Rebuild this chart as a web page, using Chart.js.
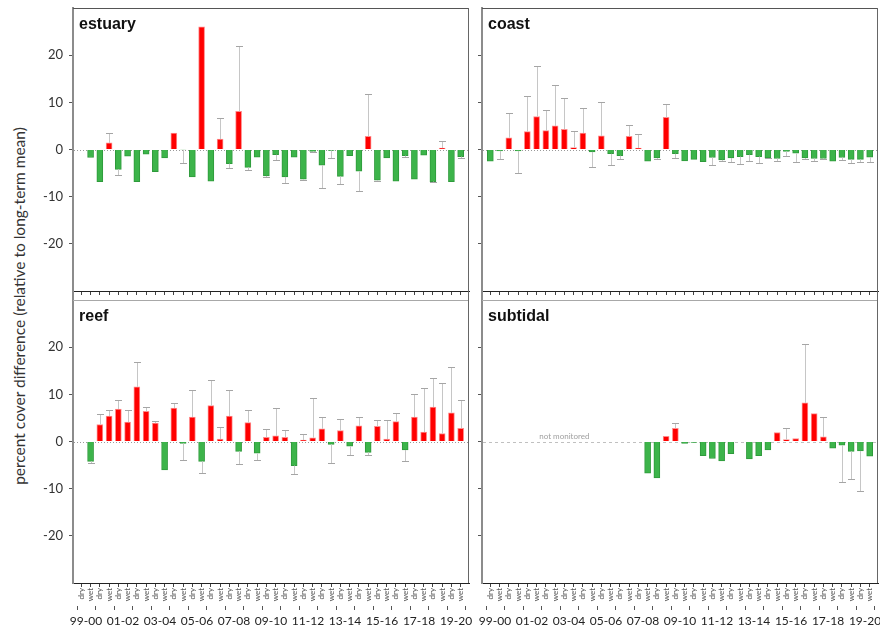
<!DOCTYPE html>
<html>
<head>
<meta charset="utf-8">
<script src="https://cdn.jsdelivr.net/npm/chart.js@4.4.1/dist/chart.umd.min.js"></script>
<style>
  body { margin: 0; background: #fff; }
  #page { position: relative; width: 880px; height: 633px; overflow: hidden; }
  .panel { position: absolute; }
  #ytitle {
    position: absolute; left: 19px; top: 306px;
    transform: translate(-50%, -50%) rotate(-90deg);
    white-space: nowrap; font: 15.5px Lato, sans-serif; color: #333;
  }
</style>
</head>
<body>
<div id="page">
  <div id="ytitle">percent cover difference (relative to long-term mean)</div>
  <div class="panel" style="left:0;top:0;width:476px;height:300px"><canvas id="estuaryChart"></canvas></div>
  <div class="panel" style="left:476px;top:0;width:404px;height:300px"><canvas id="coastChart"></canvas></div>
  <div class="panel" style="left:0;top:296px;width:476px;height:337px"><canvas id="reefChart"></canvas></div>
  <div class="panel" style="left:476px;top:296px;width:404px;height:337px"><canvas id="subtidalChart"></canvas></div>
</div>
<script>
// ==================== DATA ====================
const years = ['99-00', '00-01', '01-02', '02-03', '03-04', '04-05', '05-06', '06-07', '07-08', '08-09',
    '09-10', '10-11', '11-12', '12-13', '13-14', '14-15', '15-16', '16-17', '17-18', '18-19', '19-20'];
const seasons = ['dry', 'wet'];
const categories = years.flatMap(y => seasons.map(s => y + ' ' + s));
const yearTickLabels = ['99-00', '01-02', '03-04', '05-06', '07-08', '09-10', '11-12', '13-14', '15-16', '17-18', '19-20'];
const yTicks = [-20, -10, 0, 10, 20];

// bar values (difference from long-term mean), one per season
const estuary = [null, -1.7, -6.8, 1.4, -4.2, -1.4, -6.8, -1.0, -4.7, -1.8,
    3.5, -0.1, -5.8, 26.0, -6.7, 2.2, -3.0, 8.1, -3.8, -1.6,
    -5.6, -1.1, -5.8, -1.6, -6.3, -0.4, -3.3, -0.2, -5.7, -1.3,
    -4.6, 2.8, -6.5, -1.8, -6.7, -1.3, -6.3, -1.2, -6.8, 0.3,
    -6.8, -1.5];
// end point of each error bar
const estuaryErr = [null, null, null, 3.5, -5.5, null, null, null, null, null,
    null, -2.9, null, null, null, 6.7, -4.0, 21.9, -4.4, null,
    -5.8, -2.3, -7.2, null, -6.4, -0.6, -8.2, -1.8, -7.3, null,
    -8.7, 11.7, -6.6, null, null, -1.6, null, null, -6.9, 1.8,
    null, -1.8];

const coast = [-2.5, -0.3, 2.5, -0.3, 3.8, 7.0, 4.0, 5.0, 4.3, 0.4,
    3.5, -0.5, 2.9, -0.9, -1.3, 2.8, 0.3, -2.5, -1.8, 6.8,
    -0.9, -2.4, -2.1, -2.6, -1.7, -2.2, -1.8, -1.5, -1.1, -1.5,
    -1.8, -1.9, -0.4, -0.8, -1.8, -1.9, -1.9, -2.5, -1.7, -2.1,
    -2.1, -1.6];
const coastErr = [null, -2.1, 7.7, -5.0, 11.4, 17.6, 8.4, 13.7, 10.9, 4.0,
    8.9, -3.8, 10.1, -3.2, -2.1, 5.1, 3.3, null, -2.1, 9.6,
    -1.8, null, null, null, -3.3, -2.5, -2.6, -3.1, -2.5, -2.9,
    -1.9, -2.5, -1.3, -2.7, -2.0, -2.4, -2.1, null, -2.2, -2.8,
    -2.7, -2.7];

const reef = [null, -4.2, 3.6, 5.4, 6.9, 4.1, 11.6, 6.4, 3.9, -6.0,
    7.1, -0.4, 5.2, -4.2, 7.6, 0.5, 5.4, -2.1, 4.0, -2.5,
    0.9, 1.2, 0.9, -5.1, 0.3, 0.8, 2.7, -0.6, 2.3, -1.0,
    3.3, -2.3, 3.2, 0.5, 4.2, -1.8, 5.2, 2.0, 7.3, 1.7,
    6.1, 2.8];
const reefErr = [null, -4.6, 5.8, 6.6, 8.9, 6.6, 16.9, 7.4, 4.4, null,
    8.1, -4.0, 11.0, -6.6, 13.0, 3.1, 11.0, -4.7, 6.7, -4.0,
    2.7, 7.2, 2.5, -6.9, 1.6, 9.3, 5.2, -4.6, 4.7, -2.8,
    5.3, -2.9, 4.5, 4.5, 6.1, -4.2, 10.0, 11.4, 13.5, 12.5,
    15.8, 8.8];

const subtidal = [null, null, null, null, null, null, null, null, null, null,
    null, null, null, null, null, null, null, -6.7, -7.7, 1.1,
    2.8, -0.4, -0.2, -3.0, -3.6, -4.1, -2.6, null, -3.7, -3.0,
    -1.8, 1.9, 0.4, 0.6, 8.2, 5.9, 1.0, -1.4, -0.8, -2.1,
    -2.0, -3.1];
const subtidalErr = [null, null, null, null, null, null, null, null, null, null,
    null, null, null, null, null, null, null, null, null, null,
    4.0, null, null, null, null, null, null, null, null, null,
    null, null, 2.8, null, 20.7, null, 5.3, null, -8.5, -7.9,
    -10.5, null];

// ==================== STYLE ====================
const RED = '#ff0000';
const RED_EDGE = '#ff8a8a';
const GREEN = '#3cb44a';
const GREEN_EDGE = '#2e9a3b';
const FONT = 'Lato, "Open Sans", sans-serif';

// axis sizes are fixed so the four frames line up
const noPad = axis => {
    axis.paddingLeft = 0;
    axis.paddingRight = 0;
    axis.paddingTop = 0;
    axis.paddingBottom = 0;
};

function makePanel(canvasId, title, values, errors, opts) {
    const leftCol = opts.leftCol;
    const bottomRow = opts.bottomRow;

    const decor = {
        id: 'decor',
        beforeDatasetsDraw(chart) {
            // zero reference line
            const { ctx, chartArea: a } = chart;
            const y0 = Math.round(chart.scales.y.getPixelForValue(0)) + 0.5;
            ctx.save();
            ctx.strokeStyle = opts.zeroColor;
            ctx.lineWidth = 1;
            ctx.setLineDash(opts.zeroDash);
            ctx.beginPath();
            ctx.moveTo(a.left + 1, y0);
            ctx.lineTo(a.right, y0);
            ctx.stroke();
            ctx.restore();
        },
        afterDatasetsDraw(chart) {
            // one-sided error bars
            const { ctx, scales: { x, y } } = chart;
            ctx.save();
            ctx.lineWidth = 1;
            errors.forEach((e, i) => {
                if (e === null || values[i] === null) return;
                const px = Math.round(x.getPixelForValue(i)) + 0.5;
                const yv = y.getPixelForValue(values[i]);
                const ye = Math.round(y.getPixelForValue(e)) + 0.5;
                ctx.strokeStyle = '#c6c6c6';
                ctx.beginPath();
                ctx.moveTo(px, yv);
                ctx.lineTo(px, ye);
                ctx.stroke();
                ctx.strokeStyle = '#a5a5a5';
                ctx.beginPath();
                ctx.moveTo(px - 3.5, ye);
                ctx.lineTo(px + 3.5, ye);
                ctx.stroke();
            });
            ctx.restore();
        },
        afterDraw(chart) {
            const { ctx, chartArea: a, scales: { x, y } } = chart;
            ctx.save();
            // top and right edges of the frame
            ctx.lineWidth = 1;
            ctx.strokeStyle = bottomRow ? '#a8a8a8' : '#555';
            ctx.beginPath();
            ctx.moveTo(a.left, a.top + 0.5);
            ctx.lineTo(a.right, a.top + 0.5);
            ctx.stroke();
            ctx.strokeStyle = '#666';
            ctx.beginPath();
            ctx.moveTo(a.right - 0.5, a.top);
            ctx.lineTo(a.right - 0.5, bottomRow ? a.bottom : a.bottom + 9);
            ctx.stroke();
            if (!bottomRow) {
                ctx.strokeStyle = '#8c8c8c';
                ctx.lineWidth = 2;
                ctx.beginPath();
                ctx.moveTo(a.left, a.bottom);
                ctx.lineTo(a.left, a.bottom + 9);
                ctx.stroke();
            }

            // panel name
            ctx.fillStyle = '#111';
            ctx.font = 'bold 16px "Liberation Sans", Arial, sans-serif';
            ctx.textAlign = 'left';
            ctx.textBaseline = 'alphabetic';
            ctx.fillText(title, a.left + 6, a.top + 21);

            // small marks between years, under the season labels
            if (bottomRow) {
                ctx.strokeStyle = '#555';
                ctx.lineWidth = 1;
                for (let k = 0; k <= years.length; k++) {
                    const px = Math.round(x.getPixelForValue(2 * k - 0.5)) + 0.5;
                    ctx.beginPath();
                    ctx.moveTo(px, x.bottom + 1);
                    ctx.lineTo(px, x.bottom + 5);
                    ctx.stroke();
                }
            }

            // note over the seasons without data
            if (opts.note) {
                const first = values.findIndex(v => v !== null);
                ctx.fillStyle = '#a0a0a0';
                ctx.font = '8px ' + FONT;
                ctx.textAlign = 'center';
                ctx.fillText(opts.note, x.getPixelForValue((first - 1) / 2), y.getPixelForValue(0) - 3);
            }
            ctx.restore();
        }
    };

    return new Chart(document.getElementById(canvasId), {
        type: 'bar',
        data: {
            datasets: [{
                data: values.map((v, i) => ({ x: i, y: v })),
                backgroundColor: c => (c.raw && c.raw.y < 0) ? GREEN : RED,
                borderColor: c => (c.raw && c.raw.y < 0) ? GREEN_EDGE : RED_EDGE,
                borderWidth: 1,
                barThickness: 6
            }]
        },
        options: {
            responsive: true,
            maintainAspectRatio: false,
            animation: false,
            layout: {
                padding: { left: 0, right: leftCol ? 7 : 2, top: bottomRow ? 4 : 8, bottom: bottomRow ? 0 : 5 }
            },
            plugins: {
                legend: { display: false },
                tooltip: { enabled: false }
            },
            scales: {
                x: {
                    type: 'linear',
                    min: -0.9,
                    max: 41.9,
                    offset: false,
                    weight: 0,
                    afterBuildTicks: axis => { axis.ticks = categories.map((c, i) => ({ value: i })); },
                    afterFit: axis => { axis.height = bottomRow ? 22 : 4; noPad(axis); },
                    border: { color: '#222', width: 1 },
                    grid: { offset: false, drawOnChartArea: false, drawTicks: true, tickLength: 4, color: '#444' },
                    ticks: {
                        display: bottomRow,
                        autoSkip: false,
                        minRotation: 90,
                        maxRotation: 90,
                        padding: 1,
                        color: '#555',
                        font: { family: FONT, size: 8 },
                        callback: v => categories[v].split(' ')[1]
                    }
                },
                year: {
                    type: 'linear',
                    position: 'bottom',
                    display: bottomRow,
                    min: -0.9,
                    max: 41.9,
                    offset: false,
                    weight: 1,
                    afterBuildTicks: axis => {
                        axis.ticks = yearTickLabels.map(l => ({ value: years.indexOf(l) * 2 + 0.5 }));
                    },
                    afterFit: axis => { axis.height = bottomRow ? 28 : 0; noPad(axis); },
                    border: { display: false },
                    grid: { display: false, drawTicks: false },
                    ticks: {
                        autoSkip: false,
                        maxRotation: 0,
                        padding: 9,
                        color: '#222',
                        font: { family: FONT, size: 12 },
                        callback: v => years[(v - 0.5) / 2]
                    }
                },
                y: {
                    min: -30,
                    max: 30,
                    afterBuildTicks: axis => { axis.ticks = yTicks.map(v => ({ value: v })); },
                    afterFit: axis => { axis.width = leftCol ? 73 : 6; noPad(axis); },
                    border: { color: '#8c8c8c', width: 2 },
                    grid: { drawOnChartArea: false, drawTicks: true, tickLength: 4, color: '#555' },
                    ticks: {
                        display: leftCol,
                        padding: 6,
                        color: '#333',
                        font: { family: FONT, size: 13 }
                    }
                }
            }
        },
        plugins: [decor]
    });
}

// ==================== PANELS ====================
const dotted = [1, 2];
makePanel('estuaryChart', 'estuary', estuary, estuaryErr,
    { leftCol: true, bottomRow: false, zeroDash: dotted, zeroColor: '#9a9a9a' });
makePanel('coastChart', 'coast', coast, coastErr,
    { leftCol: false, bottomRow: false, zeroDash: dotted, zeroColor: '#9a9a9a' });
makePanel('reefChart', 'reef', reef, reefErr,
    { leftCol: true, bottomRow: true, zeroDash: dotted, zeroColor: '#9a9a9a' });
makePanel('subtidalChart', 'subtidal', subtidal, subtidalErr,
    { leftCol: false, bottomRow: true, zeroDash: [3, 3], zeroColor: '#c0c0c0', note: 'not monitored' });
</script>
</body>
</html>
